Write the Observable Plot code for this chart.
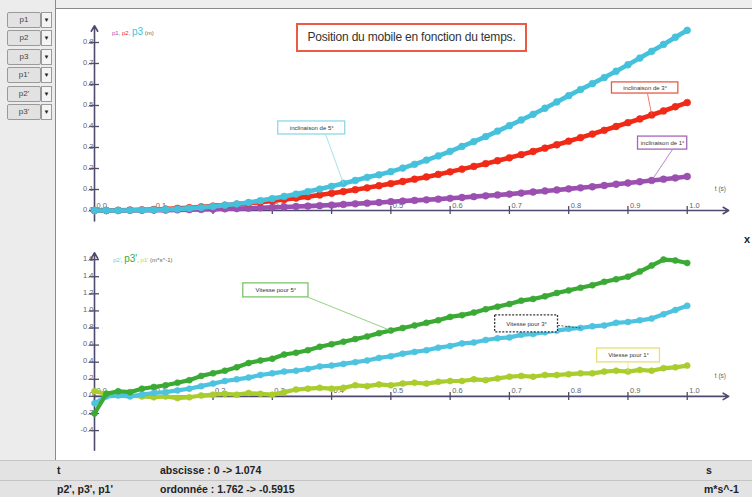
<!DOCTYPE html>
<html><head><meta charset="utf-8">
<script src="https://cdn.jsdelivr.net/npm/d3@7"></script>
<script src="https://cdn.jsdelivr.net/npm/@observablehq/plot@0.6"></script>
<style>
body{margin:0;width:752px;height:497px;position:relative;overflow:hidden;font-family:"Liberation Sans",Arial,sans-serif;background:#fff}
.abs{position:absolute}
#topband{left:0;top:0;width:752px;height:8px;background:#eeeeee;border-bottom:1px solid #8a8a8a}
#left{left:0;top:0;width:55px;height:460px;background:#ececec;border-right:1px solid #8a8a8a}
.btn{position:absolute;left:7px;width:32px;height:14px;border:1px solid #9a9a9a;border-radius:2px;background:#e2e2e2;font-size:8px;color:#444;text-align:center;line-height:14px}
.arr{position:absolute;left:41px;width:9px;height:14px;border:1px solid #9a9a9a;background:#f4f4f4;font-size:6px;color:#222;text-align:center;line-height:14px}
#title{left:296px;top:23px;width:227px;height:25px;border:2px solid #ea5a45;font-size:12px;color:#333;text-align:center;line-height:25px;background:#fff;letter-spacing:-0.2px}
.leg{position:absolute;font-size:6px;color:#666;white-space:nowrap}
.status{left:0;width:752px;background:#e3e3e3;border-top:1px solid #c4c4c4;font-size:10.5px;font-weight:bold;color:#222}
.status span{position:absolute;top:3px}
</style></head><body>
<div class="abs" id="topband"></div>
<div class="abs" id="left"></div>
<div class="abs" id="topplot" style="left:60px;top:8px"></div>
<div class="abs" id="botplot" style="left:60px;top:230px"></div>
<div class="abs" id="title">Position du mobile en fonction du temps.</div>
<div class="leg" style="left:112px;top:26px"><span style="color:#9b4fb0">p1</span>, <span style="color:#f02a17">p2</span>, <span style="color:#45c1dc;font-size:10px">p3</span> (m)</div>
<div class="leg" style="left:113px;top:253px"><span style="color:#6fcbe0">p2'</span>, <span style="color:#3aaa35;font-size:10px">p3'</span>, <span style="color:#b8d83a">p1'</span> (m*s^-1)</div>
<div class="abs" style="left:744px;top:233px;font-size:11px;font-weight:bold;color:#222">x</div>
<div class="abs status" style="top:460px;height:19px"><span style="left:57px">t</span><span style="left:160px">abscisse : 0 -&gt; 1.074</span><span style="left:706px">s</span></div>
<div class="abs status" style="top:480px;height:17px"><span style="left:57px;top:2px">p2', p3', p1'</span><span style="left:160px;top:2px">ordonnée : 1.762 -&gt; -0.5915</span><span style="left:704px;top:2px">m*s^-1</span></div>
<script>
// ---- data ----
const time = [0,0.02,0.04,0.06,0.08,0.1,0.12,0.14,0.16,0.18,0.2,0.22,0.24,0.26,0.28,0.3,0.32,0.34,0.36,0.38,0.4,0.42,0.44,0.46,0.48,0.5,0.52,0.54,0.56,0.58,0.6,0.62,0.64,0.66,0.68,0.7,0.72,0.74,0.76,0.78,0.8,0.82,0.84,0.86,0.88,0.9,0.92,0.94,0.96,0.98,1.0];
// positions (m)
const p1 = [0,0,0,0.001,0.001,0.002,0.002,0.003,0.004,0.005,0.006,0.008,0.009,0.011,0.013,0.015,0.017,0.019,0.021,0.023,0.026,0.029,0.032,0.035,0.038,0.042,0.045,0.048,0.051,0.054,0.058,0.062,0.066,0.07,0.074,0.078,0.083,0.088,0.093,0.098,0.103,0.108,0.113,0.119,0.125,0.131,0.137,0.143,0.149,0.155,0.162];
const p2 = [0,0,0.001,0.002,0.003,0.005,0.007,0.01,0.013,0.017,0.021,0.025,0.03,0.035,0.04,0.046,0.052,0.059,0.066,0.074,0.082,0.09,0.099,0.108,0.118,0.128,0.138,0.149,0.16,0.172,0.184,0.197,0.21,0.223,0.237,0.251,0.266,0.281,0.297,0.313,0.33,0.347,0.364,0.382,0.4,0.418,0.436,0.455,0.474,0.494,0.514];
const p3 = [0,0,0,0.001,0.002,0.003,0.005,0.007,0.01,0.014,0.019,0.025,0.031,0.038,0.047,0.057,0.067,0.078,0.09,0.102,0.115,0.129,0.143,0.158,0.17,0.185,0.202,0.22,0.24,0.26,0.282,0.305,0.328,0.352,0.378,0.404,0.431,0.458,0.487,0.517,0.547,0.576,0.604,0.633,0.663,0.694,0.726,0.758,0.791,0.825,0.858];
// velocities (m*s^-1)
const p1v = [0.06,0.03,0.02,0.01,0,-0.01,0,-0.02,-0.01,0.01,0.02,0.03,0.02,0.04,0.03,0.02,0.05,0.08,0.09,0.1,0.09,0.1,0.13,0.12,0.14,0.13,0.15,0.16,0.15,0.17,0.18,0.18,0.2,0.19,0.21,0.23,0.24,0.23,0.25,0.25,0.26,0.27,0.27,0.29,0.3,0.29,0.31,0.3,0.33,0.34,0.36];
const p2v = [-0.08,0,0.01,0,0.02,0.04,0.05,0.07,0.09,0.12,0.15,0.18,0.2,0.22,0.25,0.27,0.29,0.3,0.32,0.35,0.36,0.38,0.4,0.42,0.45,0.47,0.5,0.52,0.54,0.57,0.59,0.62,0.63,0.66,0.68,0.69,0.72,0.73,0.75,0.77,0.79,0.8,0.82,0.83,0.86,0.87,0.89,0.91,0.96,1.01,1.06];
const p3v = [-0.2,0.03,0.06,0.05,0.09,0.11,0.13,0.16,0.19,0.24,0.27,0.3,0.34,0.39,0.42,0.44,0.49,0.51,0.54,0.58,0.61,0.64,0.67,0.7,0.74,0.77,0.8,0.83,0.86,0.89,0.93,0.95,0.98,1.02,1.05,1.08,1.12,1.14,1.17,1.21,1.24,1.27,1.3,1.34,1.37,1.4,1.46,1.53,1.6,1.59,1.56];
const xTicks = [0,0.1,0.2,0.3,0.4,0.5,0.6,0.7,0.8,0.9,1.0];
const yTicksTop = [0,0.1,0.2,0.3,0.4,0.5,0.6,0.7,0.8];
const yTicksBot = [-0.4,-0.2,0,0.2,0.4,0.6,0.8,1.0,1.2,1.4,1.6];
const buttons = ["p1","p2","p3","p1'","p2'","p3'"];

// ---- styling ----
const C = {p1:"#9b4fb0", p2:"#f02a17", p3:"#45c1dc", v1:"#a9cd2c", v2:"#4ec3e0", v3:"#3aaa35"};
const axisColor = "#4e4a6e";
const W = 692, ML = 34, MR = 6, XD = [0, 1.1];
const pxPerX = (W - ML - MR) / (XD[1] - XD[0]);

// left buttons
const left = document.getElementById("left");
buttons.forEach((b, i) => {
  const y = 12 + i * 18.4;
  left.insertAdjacentHTML("beforeend",
    `<div class="btn" style="top:${y}px">${b}</div><div class="arr" style="top:${y}px">&#9660;</div>`);
});

function rows(vals){ return time.map((t,i)=>({t, v: vals[i]})); }

function panel({height, mt, mb, yDom, yTicks, yAxis, series, notes, tLabelV, lw, r}) {
  const pxPerY = (height - mt - mb) / (yDom[1] - yDom[0]);
  const hx = 4 / pxPerY, hy = 5 / pxPerX;
  const marks = [
    Plot.arrow([{x1:0, y1:yAxis[0], x2:0, y2:yAxis[1]}], {x1:"x1", y1:"y1", x2:"x2", y2:"y2", stroke:axisColor, strokeWidth:1.6, headLength:6}),
    Plot.arrow([{x1:0, y1:0, x2:1.07, y2:0}], {x1:"x1", y1:"y1", x2:"x2", y2:"y2", stroke:axisColor, strokeWidth:1.6, headLength:6}),
    Plot.ruleX(xTicks, {x: d=>d, y1: -hx, y2: hx, stroke:axisColor, strokeWidth:1.3}),
    Plot.ruleY(yTicks, {y: d=>d, x1: -hy, x2: hy, stroke:axisColor, strokeWidth:1.3}),
    Plot.text(yTicks, {x:0, y:d=>d, text:d=>d.toFixed(1), textAnchor:"end", lineAnchor:"bottom", dx:-1, dy:1, fontSize:7.5, fill:"#666"}),
    Plot.text(xTicks, {x:d=>d, y:0, text:d=>d.toFixed(1), textAnchor:"start", lineAnchor:"bottom", dx:2, dy:-3, fontSize:7.5, fill:"#666"}),
    Plot.text([{t:1.056, v:tLabelV, s:"t (s)"}], {x:"t", y:"v", text:"s", fontSize:6.5, fill:"#666"})
  ];
  for (const s of series) {
    const d = rows(s.vals);
    marks.push(Plot.line(d, {x:"t", y:"v", stroke:s.color, strokeWidth:lw}));
    marks.push(Plot.dot(d, {x:"t", y:"v", r, fill:s.color, stroke:s.color, strokeWidth:0.6}));
  }
  for (const n of notes) {
    const target = {t: time[n.idx], v: n.vals[n.idx]};
    marks.push(Plot.link([{a:n.from[0], b:n.from[1], c:target.t, d:target.v}], {x1:"a", y1:"b", x2:"c", y2:"d", stroke:n.line, strokeWidth:0.8, strokeDasharray:n.dash || null}));
    marks.push(Plot.rect([n], {x1:"x1", x2:"x2", y1:"y1", y2:"y2", fill:"white", stroke:n.color, strokeWidth:1.3, strokeDasharray:n.dash || null}));
    marks.push(Plot.text([n], {x:d=>(d.x1+d.x2)/2, y:d=>(d.y1+d.y2)/2, text:"label", fontSize:6, fill:"#333"}));
  }
  return Plot.plot({
    width: W, height, marginLeft: ML, marginRight: MR, marginTop: mt, marginBottom: mb,
    x: {domain: XD, axis: null}, y: {domain: yDom, axis: null},
    style: {fontFamily: "Liberation Sans, Arial, sans-serif", background: "transparent", overflow: "visible"},
    marks
  });
}

document.getElementById("topplot").append(panel({
  height: 222, mt: 13, mb: 9.5, yDom: [-0.05, 0.9], yTicks: yTicksTop, yAxis: [-0.05, 0.88], tLabelV: 0.105, lw: 4.6, r: 3.4,
  series: [{vals:p1, color:C.p1}, {vals:p2, color:C.p2}, {vals:p3, color:C.p3}],
  notes: [
    {label:"inclinaison de 5°", color:"#8fd8e8", line:"#8fd8e8", x1:0.31, x2:0.423, y1:0.362, y2:0.424, from:[0.39,0.362], idx:21, vals:p3},
    {label:"inclinaison de 3°", color:"#ea5a45", line:"#ea5a45", x1:0.873, x2:0.985, y1:0.557, y2:0.61, from:[0.933,0.557], idx:47, vals:p2},
    {label:"inclinaison de 1°", color:"#a468b8", line:"#a468b8", x1:0.917, x2:1.0, y1:0.29, y2:0.352, from:[0.975,0.29], idx:47, vals:p1}
  ]
}));

document.getElementById("botplot").append(panel({
  height: 230, mt: 12, mb: 4.25, yDom: [-0.7, 1.8], yTicks: yTicksBot, yAxis: [-0.63, 1.68], tLabelV: 0.245, lw: 4.2, r: 3,
  series: [{vals:p1v, color:C.v1}, {vals:p2v, color:C.v2}, {vals:p3v, color:C.v3}],
  notes: [
    {label:"Vitesse pour 5°", color:"#7cc46a", line:"#7cc46a", x1:0.251, x2:0.361, y1:1.158, y2:1.322, from:[0.361,1.158], idx:25, vals:p3v},
    {label:"Vitesse pour 3°", color:"#333", line:"#333", dash:"2,1.5", x1:0.676, x2:0.782, y1:0.749, y2:0.947, from:[0.782,0.83], idx:41, vals:p2v},
    {label:"Vitesse pour 1°", color:"#e8e070", line:"#e8e070", x1:0.848, x2:0.954, y1:0.398, y2:0.561, from:[0.9,0.398], idx:45, vals:p1v}
  ]
}));
</script>
</body></html>
